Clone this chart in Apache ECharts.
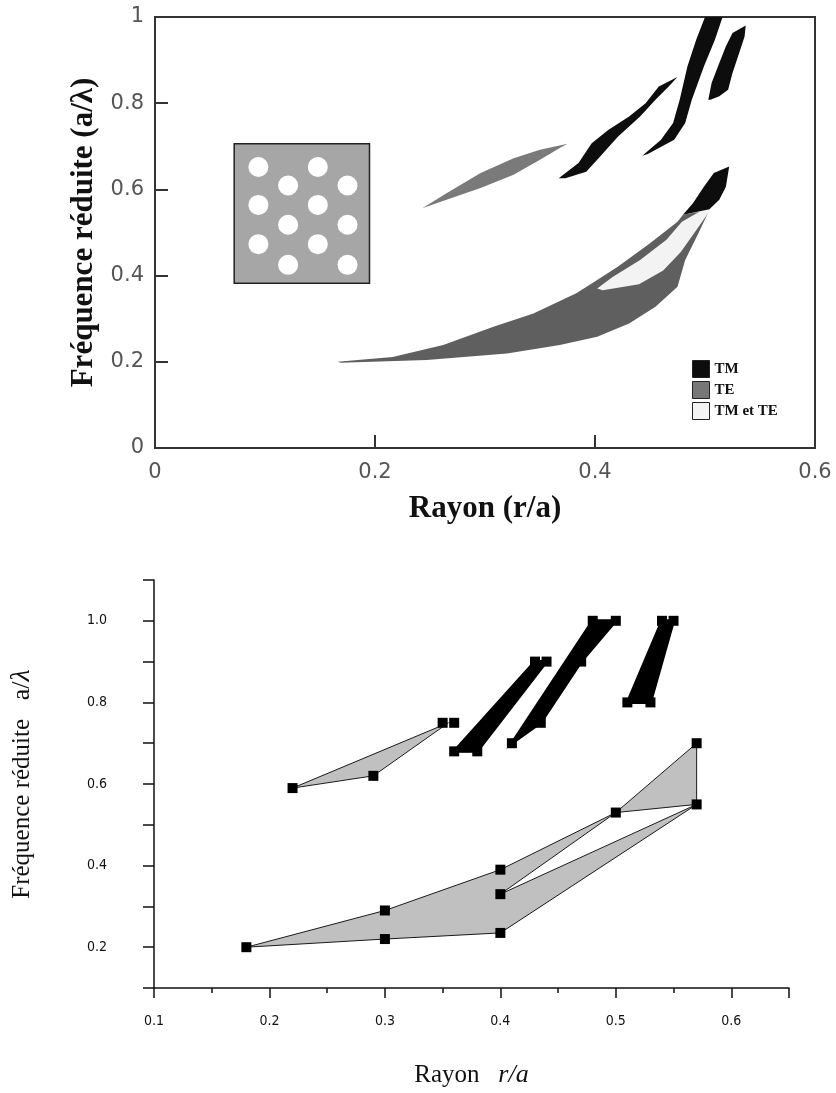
<!DOCTYPE html>
<html>
<head>
<meta charset="utf-8">
<script src="https://cdn.jsdelivr.net/npm/echarts@6/dist/echarts.min.js"></script>
<style>
  html, body { margin: 0; padding: 0; background: #ffffff; }
  #chart { width: 836px; height: 1093px; }
</style>
</head>
<body>
<div id="chart"></div>
<script>
// ===== Upper panel: computed gap map, frequency a/λ versus radius r/a =====
const upperXLabels = ['0', '0.2', '0.4', '0.6'];
const upperYLabels = ['0', '0.2', '0.4', '0.6', '0.8', '1'];

// TM gaps (black)
const tmRegions = [
  [[0.367,0.626],[0.385,0.661],[0.397,0.707],[0.412,0.738],[0.431,0.769],[0.446,0.800],[0.458,0.839],[0.475,0.861],
   [0.467,0.839],[0.455,0.808],[0.441,0.769],[0.421,0.723],[0.402,0.669],[0.392,0.641],[0.373,0.626]],
  [[0.443,0.678],[0.460,0.715],[0.471,0.754],[0.477,0.808],[0.484,0.885],[0.492,0.947],[0.500,1.000],
   [0.516,1.000],[0.509,0.947],[0.499,0.885],[0.488,0.808],[0.482,0.754],[0.472,0.715],[0.448,0.682]],
  [[0.503,0.808],[0.506,0.847],[0.513,0.893],[0.519,0.932],[0.525,0.963],[0.537,0.980],
   [0.536,0.955],[0.531,0.916],[0.525,0.870],[0.521,0.831],[0.513,0.816],[0.505,0.808]],
  [[0.522,0.653],[0.508,0.638],[0.499,0.606],[0.489,0.568],[0.480,0.541],[0.504,0.554],[0.513,0.576],[0.519,0.606]]
];

// TE gaps (grey)
const teRegions = [
  [[0.166,0.200],[0.216,0.211],[0.262,0.239],[0.307,0.281],[0.344,0.312],[0.383,0.359],[0.402,0.390],[0.421,0.421],
   [0.450,0.475],[0.475,0.525],[0.480,0.541],[0.504,0.552],[0.494,0.498],[0.482,0.436],[0.475,0.374],[0.455,0.328],
   [0.431,0.289],[0.402,0.258],[0.368,0.239],[0.320,0.219],[0.247,0.204],[0.169,0.198]],
  [[0.243,0.556],[0.265,0.591],[0.296,0.638],[0.326,0.672],[0.350,0.692],[0.375,0.706],
   [0.368,0.696],[0.350,0.669],[0.326,0.634],[0.296,0.603],[0.265,0.576]]
];

// complete gap, TM and TE (light)
const bothRegions = [
  [[0.402,0.370],[0.416,0.397],[0.441,0.436],[0.465,0.483],[0.479,0.525],[0.496,0.550],[0.506,0.556],
   [0.492,0.505],[0.478,0.455],[0.462,0.412],[0.440,0.380],[0.407,0.366]]
];

// lattice sketch: frame and air holes
const latticeFrame = [[[0.072,0.382],[0.195,0.382],[0.195,0.706],[0.072,0.706]]];
const latticeHoles = [
  [0.094,0.652],[0.094,0.564],[0.094,0.473],
  [0.121,0.609],[0.121,0.518],[0.121,0.425],
  [0.148,0.652],[0.148,0.564],[0.148,0.473],
  [0.175,0.609],[0.175,0.518],[0.175,0.425]
];

// ===== Lower panel: simplified gap map drawn from computed points =====
const lowerXLabels = ['0.1', '0.2', '0.3', '0.4', '0.5', '0.6'];
const lowerYLabels = ['0.2', '0.4', '0.6', '0.8', '1.0'];

const lowerTeRegions = [
  [[0.18,0.20],[0.30,0.29],[0.40,0.39],[0.50,0.53],[0.57,0.70],[0.57,0.55],[0.40,0.235],[0.30,0.22]],
  [[0.22,0.59],[0.355,0.75],[0.29,0.62]]
];
const lowerOpenRegion = [
  [[0.40,0.33],[0.50,0.53],[0.57,0.55]]
];
const lowerTmRegions = [
  [[0.36,0.68],[0.38,0.68],[0.44,0.90],[0.43,0.90]],
  [[0.41,0.70],[0.48,1.00],[0.50,1.00],[0.47,0.90],[0.435,0.75]],
  [[0.51,0.80],[0.53,0.80],[0.55,1.00],[0.54,1.00]]
];
const lowerPoints = [
  [0.18,0.20],[0.30,0.29],[0.30,0.22],[0.40,0.39],[0.40,0.33],[0.40,0.235],[0.50,0.53],[0.57,0.55],[0.57,0.70],
  [0.22,0.59],[0.29,0.62],[0.35,0.75],[0.36,0.75],
  [0.36,0.68],[0.37,0.69],[0.38,0.68],[0.43,0.90],[0.44,0.90],
  [0.41,0.70],[0.435,0.75],[0.47,0.90],[0.48,1.00],[0.50,1.00],
  [0.51,0.80],[0.52,0.81],[0.53,0.80],[0.54,1.00],[0.55,1.00]
];

// ---------- helpers ----------
function regionSeries(name, regions, axis, style, z) {
  const data = [];
  regions.forEach(function (poly, k) {
    poly.forEach(function (p) { data.push([p[0], p[1], k]); });
  });
  return {
    type: 'custom',
    name: name,
    xAxisIndex: axis.x,
    yAxisIndex: axis.y,
    silent: true,
    z: z,
    itemStyle: { color: style.legendColor || style.fills[0] },
    encode: { x: 0, y: 1 },
    data: data,
    renderItem: function (params, api) {
      if (params.dataIndex !== 0) return null;
      return {
        type: 'group',
        children: regions.map(function (poly, k) {
          return {
            type: 'polygon',
            shape: { points: poly.map(function (p) { return api.coord(p); }) },
            style: {
              fill: style.fills[k % style.fills.length],
              stroke: style.stroke || null,
              lineWidth: style.lineWidth || 0,
              lineJoin: 'miter'
            }
          };
        })
      };
    }
  };
}

function pickLabel(list, step, offset) {
  return function (v) {
    const k = Math.round((v - offset) / step);
    if (Math.abs((v - offset) / step - k) > 1e-6) return '';
    const s = v.toFixed(list[0].indexOf('.') >= 0 || list.length > 6 ? 1 : 1);
    const txt = (Math.abs(v - Math.round(v)) < 1e-9 && list.indexOf(String(Math.round(v))) >= 0) ? String(Math.round(v)) : s;
    return list.indexOf(txt) >= 0 ? txt : '';
  };
}

const tickSans = '"DejaVu Sans", sans-serif';
const tickNarrow = '"DejaVu Sans Condensed", "Liberation Sans Narrow", sans-serif';
const serif = '"Liberation Serif", "DejaVu Serif", serif';

const upperAxis = { x: 0, y: 0 };
const lowerAxis = { x: 1, y: 1 };

const option = {
  animation: false,
  backgroundColor: '#ffffff',
  grid: [
    { left: 155, top: 17, width: 660, height: 431, show: true, borderColor: '#333', borderWidth: 2, backgroundColor: 'transparent' },
    { left: 153, top: 580, width: 636, height: 408, show: false }
  ],
  legend: {
    data: [
      { name: 'TM', itemStyle: { borderColor: '#222', borderWidth: 1 } },
      { name: 'TE', itemStyle: { borderColor: '#222', borderWidth: 1 } },
      { name: 'TM et TE', itemStyle: { borderColor: '#222', borderWidth: 1 } }
    ],
    orient: 'vertical',
    left: 692,
    top: 360,
    padding: 0,
    itemGap: 3,
    itemWidth: 17,
    itemHeight: 17,
    itemTextGap: 5,
    icon: 'rect',
    selectedMode: false,
    textStyle: { fontFamily: serif, fontWeight: 'bold', fontSize: 15, color: '#111' }
  },
  xAxis: [
    {
      gridIndex: 0, type: 'value', min: 0, max: 0.6, interval: 0.2,
      axisLine: { show: true, lineStyle: { color: '#333', width: 2 } },
      axisTick: { show: true, inside: true, length: 13, lineStyle: { color: '#333', width: 2 } },
      axisLabel: {
        margin: 14, fontSize: 21, color: '#555', fontFamily: tickSans,
        formatter: function (v) { return upperXLabels[Math.round(v / 0.2)] || ''; }
      },
      splitLine: { show: false },
      name: 'Rayon (r/a)', nameLocation: 'middle', nameGap: 45,
      nameTextStyle: { fontFamily: serif, fontWeight: 'bold', fontSize: 31, color: '#111' }
    },
    {
      gridIndex: 1, type: 'value', min: 0.1, max: 0.65, interval: 0.05, position: 'bottom',
      axisLine: { show: true, lineStyle: { color: '#111', width: 1.5 } },
      axisTick: { show: true, inside: false, length: 5, lineStyle: { color: '#111', width: 1.5 } },
      axisLabel: { show: false },
      splitLine: { show: false },
      name: 'Rayon   {i|r/a}', nameLocation: 'middle', nameGap: 74,
      nameTextStyle: {
        fontFamily: serif, fontSize: 25, color: '#111',
        rich: { i: { fontFamily: serif, fontStyle: 'italic', fontSize: 26, color: '#111' } }
      }
    },
    {
      gridIndex: 1, type: 'value', min: 0.1, max: 0.65, interval: 0.1, position: 'bottom',
      axisLine: { show: false },
      axisTick: { show: true, inside: false, length: 10, lineStyle: { color: '#111', width: 1.5 } },
      axisLabel: {
        margin: 26, fontSize: 14, color: '#111', fontFamily: tickNarrow,
        formatter: function (v) {
          const k = Math.round(v * 10);
          if (Math.abs(v * 10 - k) > 1e-6) return '';
          const s = (k / 10).toFixed(1);
          return lowerXLabels.indexOf(s) >= 0 ? s : '';
        }
      },
      splitLine: { show: false }
    }
  ],
  yAxis: [
    {
      gridIndex: 0, type: 'value', min: 0, max: 1, interval: 0.2,
      axisLine: { show: true, lineStyle: { color: '#333', width: 2 } },
      axisTick: { show: true, inside: true, length: 13, lineStyle: { color: '#333', width: 2 } },
      axisLabel: {
        margin: 11, fontSize: 21, color: '#555', fontFamily: tickSans,
        formatter: function (v) { return upperYLabels[Math.round(v / 0.2)] || ''; }
      },
      splitLine: { show: false },
      name: 'Fréquence réduite (a/λ)', nameLocation: 'middle', nameGap: 56,
      nameTextStyle: { fontFamily: serif, fontWeight: 'bold', fontSize: 31, color: '#111' }
    },
    {
      gridIndex: 1, type: 'value', min: 0.1, max: 1.1, interval: 0.1,
      axisLine: { show: true, lineStyle: { color: '#111', width: 1.5 } },
      axisTick: { show: true, inside: false, length: 11, lineStyle: { color: '#111', width: 1.5 } },
      axisLabel: {
        margin: 47, fontSize: 14, color: '#111', fontFamily: tickNarrow,
        formatter: function (v) {
          const k = Math.round(v * 10);
          const s = (k / 10).toFixed(1);
          return lowerYLabels.indexOf(s) >= 0 ? s : '';
        }
      },
      splitLine: { show: false },
      name: 'Fréquence réduite   {a|a/}{l|λ}', nameLocation: 'middle', nameGap: 118,
      nameTextStyle: {
        fontFamily: serif, fontSize: 25, color: '#111',
        rich: {
          a: { fontFamily: serif, fontSize: 26, color: '#111' },
          l: { fontFamily: serif, fontStyle: 'italic', fontSize: 28, color: '#111' }
        }
      }
    }
  ],
  series: [
    // upper panel
    regionSeries('TE', teRegions, upperAxis, { fills: ['#5f5f5f', '#7a7a7a'], legendColor: '#777777' }, 2),
    regionSeries('TM et TE', bothRegions, upperAxis, { fills: ['#f3f3f3'], legendColor: '#f3f3f3' }, 3),
    regionSeries('TM', tmRegions, upperAxis, { fills: ['#0d0d0d'], legendColor: '#0d0d0d' }, 4),
    regionSeries('lattice', latticeFrame, upperAxis, { fills: ['#a6a6a6'], stroke: '#222', lineWidth: 1.5 }, 2),
    {
      type: 'scatter', name: 'holes', xAxisIndex: 0, yAxisIndex: 0, silent: true, z: 3,
      symbol: 'circle', symbolSize: 20,
      itemStyle: { color: '#ffffff', opacity: 1 },
      data: latticeHoles
    },
    // lower panel
    regionSeries('TE points', lowerTeRegions, { x: 1, y: 1 }, { fills: ['#c0c0c0'], stroke: '#1a1a1a', lineWidth: 1 }, 2),
    regionSeries('open', lowerOpenRegion, { x: 1, y: 1 }, { fills: ['#ffffff'], stroke: '#1a1a1a', lineWidth: 1 }, 3),
    regionSeries('TM points', lowerTmRegions, { x: 1, y: 1 }, { fills: ['#000000'], stroke: '#000000', lineWidth: 3 }, 3),
    {
      type: 'scatter', name: 'points', xAxisIndex: 1, yAxisIndex: 1, silent: true, z: 5,
      symbol: 'rect', symbolSize: 10,
      itemStyle: { color: '#000000', opacity: 1 },
      data: lowerPoints
    }
  ]
};

const chart = echarts.init(document.getElementById('chart'), null, { renderer: 'canvas' });
chart.setOption(option);
</script>
</body>
</html>
